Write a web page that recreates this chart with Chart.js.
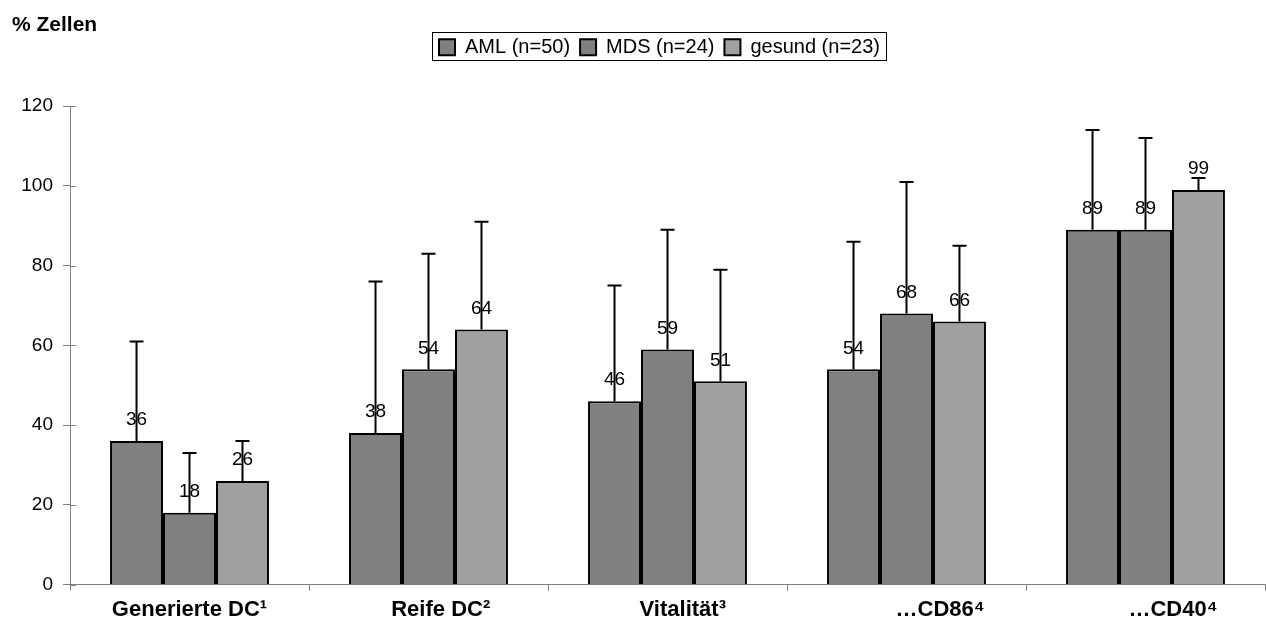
<!DOCTYPE html>
<html>
<head>
<meta charset="utf-8">
<script src="https://cdn.jsdelivr.net/npm/chart.js@4/dist/chart.umd.min.js"></script>
<style>
  html, body { margin: 0; padding: 0; background: #fff; }
  #wrap { width: 1266px; height: 632px; }
</style>
</head>
<body>
<div id="wrap"><canvas id="stage"></canvas></div>
<script>
// Daten (führende Leerzeichen wie im Original)
const categories = ['Generierte DC¹', '    Reife DC²', '     Vitalität³', '           …CD86⁴', '         …CD40⁴'];
const seriesNames = ['AML (n=50)', 'MDS (n=24)', 'gesund (n=23)'];
const aml = [36, 38, 46, 54, 89];
const mds = [18, 54, 59, 68, 89];
const gesund = [26, 64, 51, 66, 99];
// obere Fehlerbalken (Endwert)
const amlErr = [61, 76, 75, 86, 114];
const mdsErr = [33, 83, 89, 101, 112];
const gesundErr = [36, 91, 79, 85, 102];
const yTicks = [0, 20, 40, 60, 80, 100, 120];

const colors = ['#808080', '#808080', '#a0a0a0'];
const errs = [amlErr, mdsErr, gesundErr];

const sans = '"Liberation Sans", Arial, sans-serif';
const legendShift = 21; // Legende sitzt etwas rechts der Mitte

// Fehlerbalken + Werte + innere Teilstriche
const errorBars = {
  id: 'errorBars',
  afterDatasetsDraw(chart) {
    const ctx = chart.ctx;
    const y = chart.scales.y;
    ctx.save();
    ctx.strokeStyle = '#808080';
    ctx.lineWidth = 1;
    ctx.beginPath();
    yTicks.forEach(v => {
      const py = Math.round(y.getPixelForValue(v)) + 0.5;
      ctx.moveTo(y.right, py);
      ctx.lineTo(y.right + 6, py);
    });
    ctx.stroke();
    ctx.restore();
    chart.data.datasets.forEach((ds, di) => {
      const meta = chart.getDatasetMeta(di);
      meta.data.forEach((bar, i) => {
        const top = y.getPixelForValue(errs[di][i]);
        ctx.save();
        ctx.strokeStyle = '#000';
        ctx.lineWidth = 2;
        ctx.beginPath();
        ctx.moveTo(bar.x, bar.y);
        ctx.lineTo(bar.x, top);
        ctx.moveTo(bar.x - 7, top);
        ctx.lineTo(bar.x + 7, top);
        ctx.stroke();
        ctx.fillStyle = '#000';
        ctx.font = '19px ' + sans;
        ctx.textAlign = 'center';
        ctx.textBaseline = 'middle';
        ctx.fillText(ds.data[i], bar.x, bar.y - 21);
        ctx.restore();
      });
    });
  }
};

// Abstand unter der Legende, Verschiebung nach rechts
const legendGap = {
  id: 'legendGap',
  beforeInit(chart) {
    const lg = chart.legend;
    const fit = lg.fit;
    lg.fit = function () {
      fit.bind(lg)();
      this.height += 39;
    };
    const draw = lg.draw;
    lg.draw = function () {
      const ctx = chart.ctx;
      ctx.save();
      ctx.translate(legendShift, 0);
      draw.apply(lg, arguments);
      ctx.restore();
    };
  }
};

// Rahmen um die Legende
const legendBox = {
  id: 'legendBox',
  afterDraw(chart) {
    const l = chart.legend;
    const ctx = chart.ctx;
    let minX = Infinity, maxX = -Infinity;
    l.legendHitBoxes.forEach(b => { minX = Math.min(minX, b.left); maxX = Math.max(maxX, b.left + b.width); });
    const b0 = l.legendHitBoxes[0];
    ctx.save();
    ctx.strokeStyle = '#000';
    ctx.lineWidth = 1;
    ctx.strokeRect(Math.round(minX) + legendShift - 6.5, Math.round(b0.top) - 4.5, Math.round(maxX - minX) + 13, b0.height + 8);
    ctx.restore();
  }
};

new Chart(document.getElementById('stage'), {
  type: 'bar',
  data: {
    labels: categories,
    datasets: [
      { label: seriesNames[0], data: aml, backgroundColor: colors[0], borderColor: '#000', borderWidth: 2 },
      { label: seriesNames[1], data: mds, backgroundColor: colors[1], borderColor: '#000', borderWidth: 2 },
      { label: seriesNames[2], data: gesund, backgroundColor: colors[2], borderColor: '#000', borderWidth: 2 }
    ]
  },
  options: {
    responsive: true,
    maintainAspectRatio: false,
    animation: false,
    layout: { padding: { left: 12, right: 1, top: 13, bottom: 3 } },
    datasets: { bar: { categoryPercentage: 0.665, barPercentage: 1 } },
    plugins: {
      title: {
        display: true,
        text: '% Zellen',
        align: 'start',
        color: '#000',
        font: { family: sans, size: 21, weight: 'bold' },
        padding: { top: 0, bottom: -11 }
      },
      legend: {
        display: true,
        labels: {
          color: '#000',
          font: { family: sans, size: 20 },
          boxWidth: 16,
          boxHeight: 16,
          padding: 10,
          generateLabels(chart) {
            return chart.data.datasets.map((ds, i) => ({
              text: ds.label, fillStyle: colors[i], strokeStyle: '#000', lineWidth: 2, datasetIndex: i
            }));
          }
        }
      },
      tooltip: { enabled: false }
    },
    scales: {
      x: {
        grid: { drawOnChartArea: false, color: '#808080', tickLength: 6, offset: true },
        border: { color: '#808080', width: 1 },
        ticks: { color: '#000', font: { family: sans, size: 22, weight: 'bold' }, padding: 6, maxRotation: 0 }
      },
      y: {
        min: 0, max: 120,
        afterBuildTicks(scale) { scale.ticks = yTicks.map(v => ({ value: v })); },
        afterFit(scale) { scale.width = 58; },
        grid: { drawOnChartArea: false, color: '#808080', tickLength: 7 },
        border: { color: '#808080', width: 1 },
        ticks: { color: '#000', font: { family: sans, size: 19 }, padding: 10 }
      }
    }
  },
  plugins: [errorBars, legendGap, legendBox]
});
</script>
</body>
</html>
